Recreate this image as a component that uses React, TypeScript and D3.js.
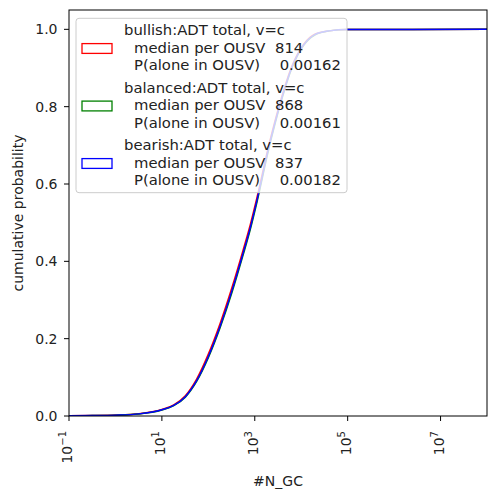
import React from 'react'
import * as d3 from 'd3'

// #N_GC sample positions and the cumulative probability
const nGC = [0.1, 0.32, 1, 3.2, 10, 18, 32, 56, 100, 180, 320, 560, 800, 1120, 2000, 3550, 6300, 11200, 20000, 40000, 100000, 1e8]
const bullishCdf = [0.0005, 0.001, 0.0023, 0.0058, 0.0168, 0.029, 0.0525, 0.0955, 0.16, 0.24, 0.331, 0.429, 0.495, 0.566, 0.7, 0.813, 0.905, 0.961, 0.988, 0.996, 0.9995, 1.0]
const balancedCdf = [0.0005, 0.001, 0.0021, 0.0053, 0.0155, 0.0268, 0.0488, 0.0895, 0.151, 0.229, 0.318, 0.416, 0.482, 0.554, 0.69, 0.806, 0.9, 0.958, 0.986, 0.996, 0.9995, 1.0]
const bearishCdf = [0.0005, 0.001, 0.0022, 0.0055, 0.016, 0.0275, 0.05, 0.0913, 0.154, 0.233, 0.323, 0.421, 0.487, 0.559, 0.695, 0.809, 0.902, 0.959, 0.987, 0.996, 0.9995, 1.0]

const seriesNames = ['bullish', 'balanced', 'bearish']
const seriesColors = ['#ff0000', '#008000', '#0000ff']
const medians = ['814', '868', '837']
const pAlone = ['0.00162', '0.00161', '0.00182']

const xTickExps = [-1, 1, 3, 5, 7]
const yTicks = [0, 0.2, 0.4, 0.6, 0.8, 1.0]

const W = 496
const H = 496
const margin = { top: 10, right: 9, bottom: 80, left: 69 }
const FONT = 'DejaVu Sans, sans-serif'

export default function App() {
  const x = d3.scaleLog().domain([0.1, 1e8]).range([margin.left, W - margin.right])
  const y = d3.scaleLinear().domain([0, 1.05]).range([H - margin.bottom, margin.top])

  const cdfs = [bullishCdf, balancedCdf, bearishCdf]
  const line = d3.line<number>()
    .x((_, i) => x(nGC[i]))
    .y(d => y(d))
    .curve(d3.curveMonotoneX)

  const x0 = margin.left
  const x1 = W - margin.right
  const y0 = H - margin.bottom
  const y1 = margin.top

  // legend layout
  const lg = { x: 76, y: 18.3, w: 271, h: 174.4 }
  const entryStep = 57.5
  const lineStep = 17.7

  return (
    <div style={{ position: 'fixed', left: 0, top: 0 }}>
      <svg width={W} height={H} style={{ display: 'block', background: '#fff' }} fontFamily={FONT}>
        <defs>
          <clipPath id="plot">
            <rect x={x0} y={y1} width={x1 - x0} height={y0 - y1} />
          </clipPath>
        </defs>

        {/* curves */}
        <g clipPath="url(#plot)">
          {cdfs.map((c, i) => (
            <path key={i} d={line(c) || ''} fill="none" stroke={seriesColors[i]} strokeWidth={1.5} />
          ))}
        </g>

        {/* y axis */}
        {yTicks.map(t => (
          <g key={t}>
            <line x1={x0 - 5} x2={x0} y1={y(t)} y2={y(t)} stroke="#000" strokeWidth={1} />
            <text x={x0 - 11.5} y={y(t)} dy="0.35em" textAnchor="end" fontSize={14} fill="#222">
              {t.toFixed(1)}
            </text>
          </g>
        ))}
        <text
          transform={`translate(23,${(y0 + y1) / 2}) rotate(-90)`}
          textAnchor="middle"
          fontSize={14}
          fill="#222"
        >
          cumulative probability
        </text>

        {/* x axis */}
        {xTickExps.map(e => (
          <g key={e}>
            <line x1={x(Math.pow(10, e))} x2={x(Math.pow(10, e))} y1={y0} y2={y0 + 5} stroke="#000" strokeWidth={1} />
            <text
              transform={`translate(${x(Math.pow(10, e)) + 3},${y0 + 15}) rotate(-90)`}
              textAnchor="end"
              fontSize={14}
              fill="#222"
            >
              10<tspan fontSize={10} dy={-6}>{e < 0 ? '\u2212' + Math.abs(e) : String(e)}</tspan>
            </text>
          </g>
        ))}
        <text x={(x0 + x1) / 2} y={486} textAnchor="middle" fontSize={14} fill="#222">
          #N_GC
        </text>

        {/* frame */}
        <rect x={x0} y={y1} width={x1 - x0} height={y0 - y1} fill="none" stroke="#000" strokeWidth={1} />

        {/* legend */}
        <rect
          x={lg.x}
          y={lg.y}
          width={lg.w}
          height={lg.h}
          rx={3}
          fill="#fff"
          fillOpacity={0.8}
          stroke="#cccccc"
          strokeWidth={1}
        />
        {seriesNames.map((name, i) => {
          const base = 35 + i * entryStep
          return (
            <g key={name} fontSize={14.8} fill="#222">
              <rect x={82} y={base + 8.6} width={30} height={9.8} fill="none" stroke={seriesColors[i]} strokeWidth={1.3} />
              <text x={124} y={base}>{name}:ADT total, v=c</text>
              <text x={134} y={base + lineStep}>median per OUSV</text>
              <text x={275} y={base + lineStep}>{medians[i]}</text>
              <text x={134} y={base + 2 * lineStep}>P(alone in OUSV)</text>
              <text x={279.7} y={base + 2 * lineStep}>{pAlone[i]}</text>
            </g>
          )
        })}
      </svg>
    </div>
  )
}
